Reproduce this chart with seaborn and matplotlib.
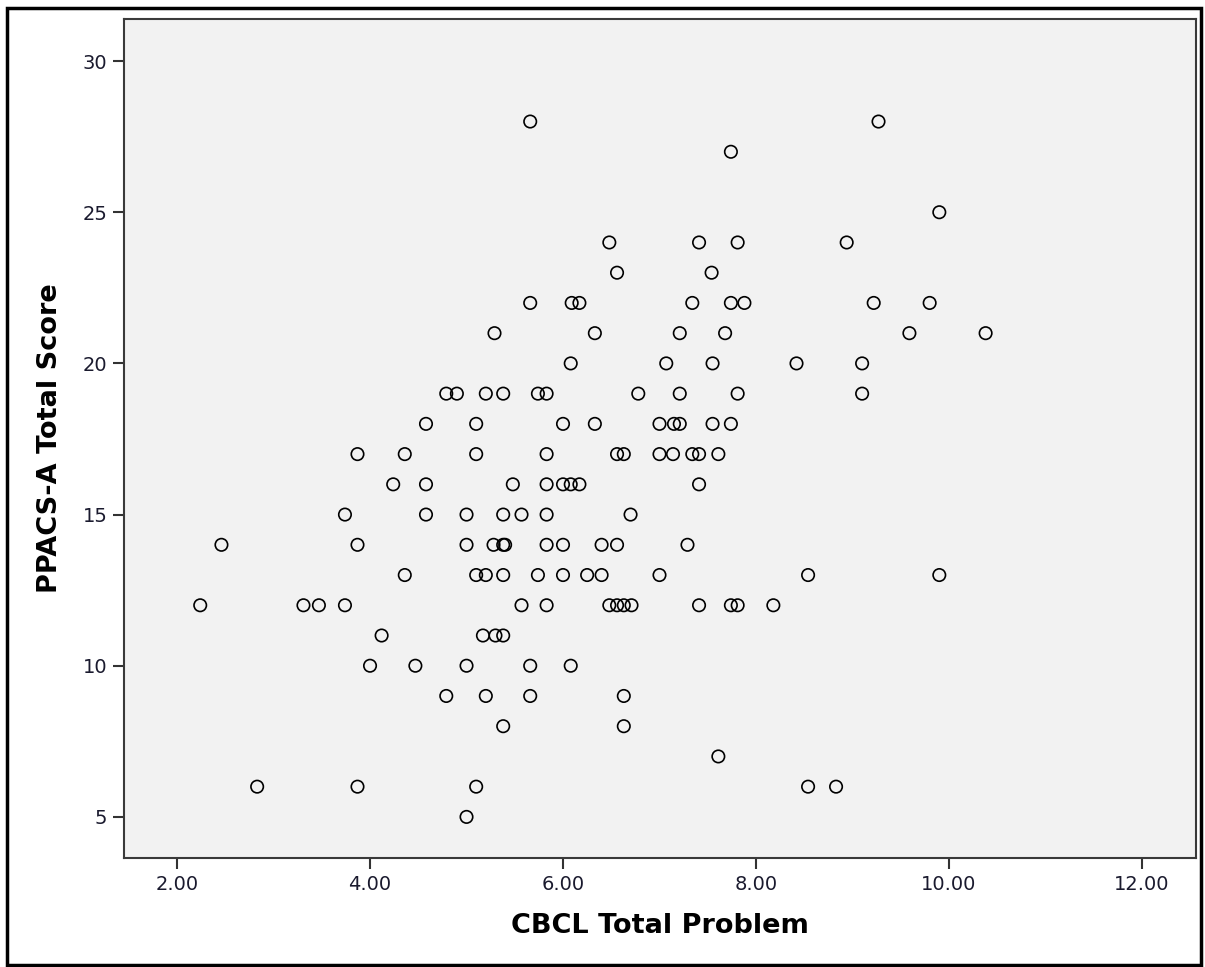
import matplotlib
matplotlib.use("Agg")
import pandas as pd
import matplotlib.pyplot as plt
from matplotlib.patches import Rectangle
import seaborn as sns

# === Data (one line per PPACS-A score level) ===
cbcl_total = [
    5.66, 9.27,
    7.74,
    9.90,
    6.48, 7.41, 7.81, 8.94,
    6.56, 7.54,
    5.66, 6.09, 6.17, 7.34, 7.74, 7.88, 9.22, 9.80,
    5.29, 6.33, 7.21, 7.68, 9.59, 10.38,
    6.08, 7.07, 7.55, 8.42, 9.10,
    4.79, 4.90, 5.20, 5.38, 5.74, 5.83, 6.78, 7.21, 7.81, 9.10,
    4.58, 5.10, 6.00, 6.33, 7.00, 7.15, 7.21, 7.55, 7.74,
    3.87, 4.36, 5.10, 5.83, 6.56, 6.63, 7.00, 7.14, 7.34, 7.41, 7.61,
    4.24, 4.58, 5.48, 5.83, 6.00, 6.08, 6.17, 7.41,
    3.74, 4.58, 5.00, 5.38, 5.57, 5.83, 6.70,
    2.46, 3.87, 5.00, 5.28, 5.38, 5.40, 5.83, 6.00, 6.40, 6.56, 7.29,
    4.36, 5.10, 5.20, 5.38, 5.74, 6.00, 6.25, 6.40, 7.00, 8.54, 9.90,
    2.24, 3.31, 3.47, 3.74, 5.57, 5.83, 6.48, 6.56, 6.63, 6.71, 7.41, 7.74, 7.81, 8.18,
    4.12, 5.17, 5.30, 5.38,
    4.00, 4.47, 5.00, 5.66, 6.08,
    4.79, 5.20, 5.66, 6.63,
    5.38, 6.63,
    7.61,
    2.83, 3.87, 5.10, 8.54, 8.83,
    5.00,
]
ppacs_total = [
    28, 28,
    27,
    25,
    24, 24, 24, 24,
    23, 23,
    22, 22, 22, 22, 22, 22, 22, 22,
    21, 21, 21, 21, 21, 21,
    20, 20, 20, 20, 20,
    19, 19, 19, 19, 19, 19, 19, 19, 19, 19,
    18, 18, 18, 18, 18, 18, 18, 18, 18,
    17, 17, 17, 17, 17, 17, 17, 17, 17, 17, 17,
    16, 16, 16, 16, 16, 16, 16, 16,
    15, 15, 15, 15, 15, 15, 15,
    14, 14, 14, 14, 14, 14, 14, 14, 14, 14, 14,
    13, 13, 13, 13, 13, 13, 13, 13, 13, 13, 13,
    12, 12, 12, 12, 12, 12, 12, 12, 12, 12, 12, 12, 12, 12,
    11, 11, 11, 11,
    10, 10, 10, 10, 10,
    9, 9, 9, 9,
    8, 8,
    7,
    6, 6, 6, 6, 6,
    5,
]
x_ticks = [2, 4, 6, 8, 10, 12]
y_ticks = [5, 10, 15, 20, 25, 30]

df = pd.DataFrame({"CBCL": cbcl_total, "PPACS": ppacs_total})

# === Style ===
sns.set_style("white", {"axes.facecolor": "#f2f2f2"})
plt.rcParams["font.family"] = ["DejaVu Sans"]

fig = plt.figure(figsize=(12.05, 9.67), dpi=100)
ax = fig.add_axes([0.1029, 0.1127, 0.8896, 0.8676])

sns.scatterplot(
    data=df, x="CBCL", y="PPACS", ax=ax,
    marker="o", s=80, facecolors="none", edgecolor="black", linewidth=1.2,
)

ax.set_xlim(1.45, 12.56)
ax.set_ylim(3.64, 31.39)
ax.set_xticks(x_ticks)
ax.set_xticklabels([f"{v:.2f}" for v in x_ticks])
ax.set_yticks(y_ticks)

for side in ["left", "bottom", "top", "right"]:
    ax.spines[side].set_visible(True)
    ax.spines[side].set_color("#3a3a3a")
    ax.spines[side].set_linewidth(1.5)

ax.tick_params(axis="both", which="major", bottom=True, left=True, direction="out",
               length=8, width=1.5, color="#333333", labelsize=14, labelcolor="#1a1a2e", pad=4)

ax.set_xlabel("CBCL Total Problem", fontsize=19.5, fontweight="bold", labelpad=14, color="black")
ax.set_ylabel("PPACS-A Total Score", fontsize=19.5, fontweight="bold", labelpad=14, color="black")

# outer frame round the whole picture
fig.patches.append(Rectangle((0.006, 0.002), 0.991, 0.99, transform=fig.transFigure,
                             fill=False, edgecolor="black", linewidth=2.5))

fig.savefig("out.png", dpi=100, facecolor="white")
